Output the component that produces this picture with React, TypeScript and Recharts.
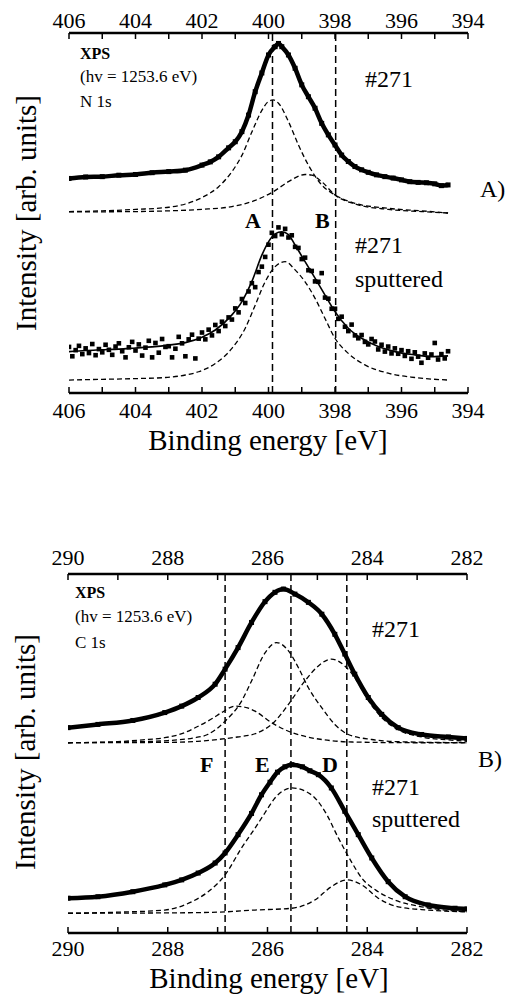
import React from "react";
import { ComposedChart, Line, Scatter, XAxis, YAxis, ReferenceLine } from "recharts";

const FONT = "Liberation Serif, Tinos, Times New Roman, DejaVu Serif, serif";

// ---------- panel A: N 1s ----------
const n1sTicks = [406, 405, 404, 403, 402, 401, 400, 399, 398, 397, 396, 395, 394];
const n1sRefs = [399.88, 397.98];

// #271 as received (measured points)
const n1sE = [406, 405.5, 405, 404.5, 404, 403.5, 403, 402.5, 402, 401.75, 401.5, 401.2, 401, 400.8, 400.6, 400.4, 400.2, 400, 399.8, 399.7, 399.6, 399.4, 399.2, 399, 398.8, 398.6, 398.4, 398.2, 398, 397.8, 397.6, 397.4, 397.2, 397, 396.75, 396.5, 396.25, 396, 395.75, 395.5, 395.25, 395, 394.8, 394.6];
const n1sI = [59.6, 60.0, 60.1, 60.5, 60.7, 61.2, 61.5, 61.9, 63.3, 64.2, 65.6, 68.1, 69.8, 72.6, 77.2, 83.7, 88.9, 93.9, 96.2, 97.1, 96.2, 93.9, 90.2, 85.6, 82.3, 79.1, 74.9, 71.7, 68.9, 66.1, 64.3, 62.9, 62.0, 61.3, 60.6, 60.1, 59.7, 59.2, 58.7, 58.5, 58.4, 58.1, 57.6, 57.8];

// fitted components A and B
const n1sAE = [406, 405, 404, 403, 402.5, 402, 401.5, 401.1, 400.8, 400.5, 400.2, 400, 399.86, 399.7, 399.4, 399.1, 398.8, 398.4, 398, 397.4, 396.4, 395.4, 394.6];
const n1sAI = [50.4, 50.6, 51.0, 51.6, 52.5, 54.3, 57.3, 61.5, 66.0, 72.5, 78.5, 81.0, 81.4, 80.5, 75.4, 68.9, 63.3, 57.8, 55.0, 52.7, 51.3, 50.6, 50.0];
const n1sBE = [406, 404, 403, 402, 401.1, 400.4, 399.86, 399.4, 398.9, 398.7, 398.4, 398, 397.4, 396.4, 395.4, 394.6];
const n1sBI = [50.3, 50.4, 50.6, 51.0, 51.8, 53.5, 55.9, 58.7, 60.7, 60.5, 58.7, 55.0, 52.5, 51.0, 50.4, 50.0];

// #271 sputtered: scan from 406 eV in 0.1 eV steps
const sputStart = 406;
const sputStep = 0.1;
const sputI = [
  12.8, 10.2, 11.9, 13.1, 10.8, 12.4, 11.1, 13.6, 10.5, 12.2,
  11.3, 13.4, 12.0, 10.6, 12.9, 13.8, 11.6, 9.9, 12.7, 14.2,
  11.8, 13.5, 10.4, 12.6, 14.5, 9.9, 13.9, 11.2, 15.0, 12.8,
  13.0, 9.9, 12.3, 15.6, 13.8, 10.2, 14.9, 16.2, 9.6, 15.1,
  16.8, 14.9, 17.6, 16.0, 18.9, 17.2, 19.8, 18.6, 21.0, 20.4,
  23.5, 22.4, 26.1, 25.0, 28.2, 30.5, 29.4, 33.6, 35.1, 37.8,
  41.2, 44.5, 43.6, 46.0, 44.1, 45.6, 43.2, 43.8, 40.6, 40.3,
  37.2, 37.6, 34.1, 33.9, 31.0, 30.9, 33.3, 26.5, 26.2, 23.4,
  23.4, 20.6, 21.2, 18.4, 17.2, 19.0, 16.0, 15.2, 16.1, 14.2,
  13.5, 15.0, 14.3, 12.1, 13.4, 11.5, 12.9, 11.0, 12.4, 10.9,
  11.9, 10.3, 11.6, 9.5, 11.3, 10.1, 8.4, 11.0, 9.8, 10.7,
  13.9, 9.3, 10.8, 9.6, 11.6,
];
const sputFitE = [406, 405.5, 405, 404.5, 404, 403.5, 403, 402.5, 402, 401.6, 401.1, 400.8, 400.5, 400.2, 400, 399.8, 399.6, 399.4, 399.2, 398.9, 398.6, 398.3, 398, 397.6, 397.2, 396.7, 396.2, 395.6, 395.1, 394.6];
const sputFitI = [11.5, 11.8, 12.0, 12.2, 12.5, 12.8, 13.3, 14.0, 15.5, 17.5, 21.7, 25.4, 31.0, 38.3, 42.0, 44.2, 44.8, 44.0, 41.1, 36.5, 31.9, 27.2, 22.6, 18.0, 15.2, 12.9, 11.5, 10.6, 10.1, 10.3];
const sputCompE = [406, 405, 404, 403.1, 402.5, 402.1, 401.6, 401.1, 400.7, 400.4, 400.1, 399.8, 399.5, 399.2, 398.9, 398.6, 398.3, 398, 397.6, 397.1, 396.4, 395.6, 394.6];
const sputCompI = [3.6, 3.8, 4.0, 4.3, 5.0, 5.9, 8.2, 12.4, 18.0, 24.4, 30.9, 35.1, 36.5, 34.2, 30.9, 26.3, 20.7, 15.2, 11.0, 7.8, 5.5, 4.3, 3.6];

// ---------- panel B: C 1s ----------
const c1sTicks = [290, 289, 288, 287, 286, 285, 284, 283, 282];
const c1sRefs = [286.85, 285.53, 284.41];

const c1sE = [290, 289.4, 288.7, 288.06, 287.72, 287.39, 287.05, 286.85, 286.59, 286.32, 286.05, 285.85, 285.68, 285.45, 285.18, 284.91, 284.65, 284.45, 284.25, 283.98, 283.71, 283.38, 282.91, 282.37, 282];
const c1sI = [57.2, 58.1, 59.2, 61.4, 63.2, 65.6, 69.3, 73.5, 79.5, 86.5, 92.3, 94.9, 95.8, 94.4, 92.1, 88.8, 83.2, 77.7, 72.1, 65.6, 60.9, 57.2, 55.3, 54.6, 54.2];

const c1sFE = [290, 289, 288.5, 288.06, 287.7, 287.39, 287.1, 286.92, 286.65, 286.4, 286.25, 285.92, 285.58, 285.2, 284.91, 284.3, 283, 282];
const c1sFI = [53.0, 53.3, 53.8, 54.4, 55.6, 57.6, 59.8, 61.4, 63.2, 62.7, 61.8, 58.6, 56.2, 54.6, 53.9, 53.2, 53.0, 53.0];
const c1sEE = [290, 288.5, 288, 287.5, 287.2, 286.85, 286.52, 286.32, 286.05, 285.82, 285.58, 285.38, 285.18, 284.91, 284.65, 284.38, 283.91, 283.4, 282];
const c1sEI = [53.0, 53.3, 53.6, 54.3, 55.3, 59.0, 64.6, 70.2, 78.0, 80.9, 78.6, 73.9, 68.3, 62.7, 58.1, 55.3, 53.9, 53.3, 53.0];
const c1sDE = [290, 288, 287.4, 287, 286.6, 286.25, 285.85, 285.58, 285.25, 284.98, 284.72, 284.45, 284.25, 283.98, 283.71, 283.38, 282.91, 282.37, 282];
const c1sDI = [53.0, 53.1, 53.4, 53.9, 54.6, 55.5, 59.0, 63.7, 70.2, 74.4, 76.3, 74.4, 71.1, 64.8, 60.0, 56.6, 54.6, 53.8, 53.4];

const c1sSputE = [290, 289.4, 288.7, 288.06, 287.72, 287.39, 287.05, 286.85, 286.59, 286.32, 286.12, 285.95, 285.8, 285.65, 285.51, 285.3, 285.15, 284.98, 284.72, 284.45, 284.18, 283.91, 283.58, 283.24, 282.78, 282.24, 282];
const c1sSputI = [9.7, 10.1, 11.5, 13.4, 14.8, 16.7, 19.5, 22.3, 27.4, 33.3, 38.5, 42.0, 44.8, 46.3, 46.9, 46.3, 45.2, 44.1, 40.4, 33.9, 27.4, 20.9, 14.3, 10.1, 7.8, 6.9, 6.7];
const c1sSputEE = [290, 289, 288.06, 287.52, 287.19, 286.85, 286.52, 286.25, 286.05, 285.85, 285.51, 285.12, 284.85, 284.58, 284.32, 284.11, 283.78, 283.45, 282.91, 282];
const c1sSputEI = [5.5, 5.8, 6.4, 8.7, 11.5, 16.2, 23.7, 29.2, 33.5, 37.6, 40.4, 38.5, 33.9, 26.5, 19.9, 15.3, 11.5, 9.2, 7.3, 5.9];
const c1sSputDE = [290, 288, 287, 286.25, 285.51, 285.05, 284.72, 284.41, 284.11, 283.78, 283.38, 282.78, 282];
const c1sSputDI = [5.5, 5.6, 5.8, 6.4, 6.9, 9.2, 12.9, 14.8, 13.4, 9.7, 7.3, 6.4, 5.9];

type Pt = { e: number; v: number };
const pts = (es: number[], vs: number[]): Pt[] => es.map((e, i) => ({ e, v: vs[i] }));
const sputPts: Pt[] = sputI.map((v, i) => ({ e: sputStart - i * sputStep, v }));

const evenLabel = (v: number) => (Math.round(v) % 2 === 0 ? String(v) : "");

const squareDot = (p: any) => (
  <rect key={`sq${p.index}`} x={p.cx - 2.5} y={p.cy - 2.5} width={5} height={5} fill="#000" />
);
const squareShape = (p: any) => (
  <rect x={p.cx - 2.3} y={p.cy - 2.3} width={4.6} height={4.6} fill="#000" />
);

function thick(data: Pt[], key: string) {
  return (
    <Line key={key} data={data} dataKey="v" type="monotone" stroke="#000" strokeWidth={4.5}
      dot={squareDot} activeDot={false} isAnimationActive={false} />
  );
}
function dashed(data: Pt[], key: string) {
  return (
    <Line key={key} data={data} dataKey="v" type="monotone" stroke="#000" strokeWidth={1.3}
      strokeDasharray="5 3" dot={false} activeDot={false} isAnimationActive={false} />
  );
}

function Panel({ top, margin, domain, ticks, topTm, botTm, refs, children }: any) {
  const axisLine = { stroke: "#000", strokeWidth: 2.5 };
  const tickLine = { stroke: "#000", strokeWidth: 1.5 };
  const tick = { fill: "#000", fontSize: 22, fontFamily: FONT };
  return (
    <div style={{ position: "absolute", left: 0, top }}>
      <ComposedChart width={512} height={450} margin={margin} style={{ fontFamily: FONT }}>
        <XAxis type="number" dataKey="e" domain={domain} reversed allowDataOverflow ticks={ticks}
          interval={0} tickFormatter={evenLabel} tickSize={-6} tickMargin={botTm} height={40}
          axisLine={axisLine} tickLine={tickLine} tick={tick} />
        <XAxis xAxisId="top" orientation="top" type="number" dataKey="e" domain={domain} reversed
          allowDataOverflow ticks={ticks} interval={0} tickFormatter={evenLabel} tickSize={-6}
          tickMargin={topTm} height={30} axisLine={axisLine} tickLine={tickLine} tick={tick} />
        <YAxis type="number" dataKey="v" domain={[0, 100]} allowDataOverflow tick={false}
          tickLine={false} width={0} axisLine={axisLine} />
        <YAxis yAxisId="right" orientation="right" type="number" domain={[0, 100]} tick={false}
          tickLine={false} width={0} axisLine={axisLine} />
        {refs.map((x: number) => (
          <ReferenceLine key={x} x={x} stroke="#000" strokeWidth={1.5} strokeDasharray="7 4" />
        ))}
        {children}
      </ComposedChart>
    </div>
  );
}

function T({ x, y, s, size = 24, bold = false, anchor = "start" }: any) {
  return (
    <text x={x} y={y} fontSize={size} fontWeight={bold ? "bold" : "normal"}
      textAnchor={anchor} fill="#000" style={{ fontFamily: FONT }}>{s}</text>
  );
}

export default function App() {
  return (
    <div style={{ position: "absolute", left: 0, top: 0, width: 512, height: 996, background: "#fff", fontFamily: FONT }}>
      <Panel top={0} margin={{ top: 3, right: 44, bottom: 17, left: 69 }} domain={[394, 406]}
        ticks={n1sTicks} topTm={11} botTm={15.5} refs={n1sRefs}>
        {dashed(pts(n1sAE, n1sAI), "a")}
        {dashed(pts(n1sBE, n1sBI), "b")}
        {thick(pts(n1sE, n1sI), "d")}
        {dashed(pts(sputCompE, sputCompI), "sc")}
        <Line data={pts(sputFitE, sputFitI)} dataKey="v" type="monotone" stroke="#000" strokeWidth={1.6}
          dot={false} activeDot={false} isAnimationActive={false} />
        <Scatter data={sputPts} dataKey="v" shape={squareShape} isAnimationActive={false} />
      </Panel>

      <Panel top={530} margin={{ top: 14, right: 45, bottom: 7, left: 68 }} domain={[282, 290]}
        ticks={c1sTicks} topTm={15} botTm={13} refs={c1sRefs}>
        {dashed(pts(c1sFE, c1sFI), "f")}
        {dashed(pts(c1sEE, c1sEI), "e")}
        {dashed(pts(c1sDE, c1sDI), "dd")}
        {thick(pts(c1sE, c1sI), "c")}
        {dashed(pts(c1sSputEE, c1sSputEI), "se")}
        {dashed(pts(c1sSputDE, c1sSputDI), "sd")}
        {thick(pts(c1sSputE, c1sSputI), "cs")}
      </Panel>

      <svg width={512} height={996} style={{ position: "absolute", left: 0, top: 0, pointerEvents: "none" }}>
        {/* panel A */}
        <T x={80} y={59} s="XPS" size={16} bold />
        <T x={80} y={82} s="(hv = 1253.6 eV)" size={17} />
        <T x={80} y={106.5} s="N 1s" size={17} />
        <T x={365} y={87} s="#271" />
        <T x={480} y={197} s="A)" />
        <T x={245} y={228} s="A" size={22} bold />
        <T x={315} y={228} s="B" size={22} bold />
        <T x={355} y={253} s="#271" />
        <T x={355} y={287} s="sputtered" />
        <T x={268} y={450} s="Binding energy [eV]" size={29} anchor="middle" />
        <text transform="translate(36,213) rotate(-90)" fontSize={29} textAnchor="middle" fill="#000" style={{ fontFamily: FONT }}>
          Intensity [arb. units]
        </text>
        {/* panel B */}
        <T x={75} y={598} s="XPS" size={16} bold />
        <T x={75} y={622} s="(hv = 1253.6 eV)" size={17} />
        <T x={75} y={648} s="C 1s" size={17} />
        <T x={372} y={637} s="#271" />
        <T x={478} y={767} s="B)" />
        <T x={200} y={772} s="F" size={22} bold />
        <T x={255} y={772} s="E" size={22} bold />
        <T x={322} y={772} s="D" size={22} bold />
        <T x={372} y={795} s="#271" />
        <T x={372} y={827} s="sputtered" />
        <T x={269} y={988} s="Binding energy [eV]" size={29} anchor="middle" />
        <text transform="translate(35,752) rotate(-90)" fontSize={29} textAnchor="middle" fill="#000" style={{ fontFamily: FONT }}>
          Intensity [arb. units]
        </text>
      </svg>
    </div>
  );
}
